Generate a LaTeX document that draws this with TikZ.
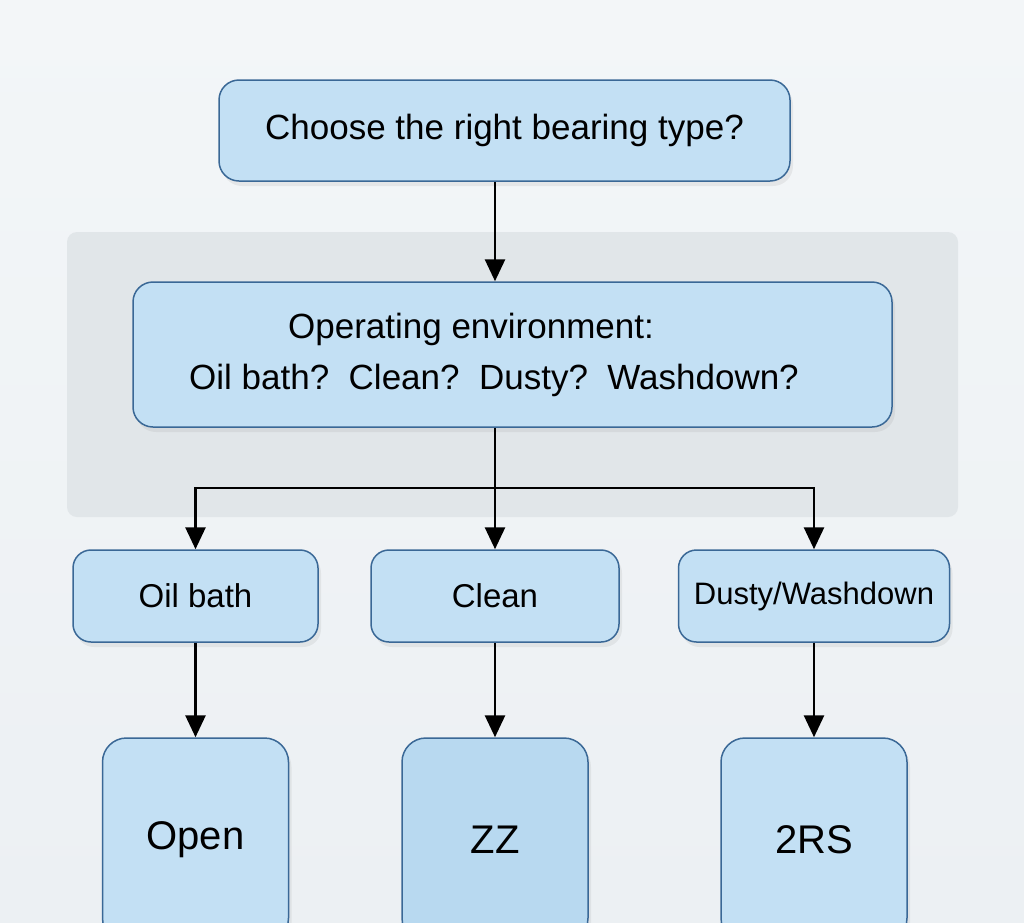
\documentclass[tikz,border=0pt]{standalone}
\usepackage{fontspec}
\setmainfont{Liberation Sans}
\usetikzlibrary{arrows.meta, positioning, shadows, backgrounds}
\definecolor{pagetop}{RGB}{243,246,248}
\definecolor{pagebottom}{RGB}{236,240,243}
\definecolor{panelgray}{RGB}{225,230,233}
\definecolor{boxblue}{RGB}{195,224,244}
\definecolor{boxbluedark}{RGB}{184,217,240}
\definecolor{edgeblue}{RGB}{58,104,150}

\begin{document}
\begin{tikzpicture}[
  x=1pt, y=-1pt,
  question/.style={rectangle, draw=edgeblue, fill=boxblue, line width=1.5pt, rounded corners=20pt, align=center, inner sep=0pt,
    drop shadow={opacity=0.12, shadow xshift=3pt, shadow yshift=-5pt}},
  choice/.style={question, rounded corners=18pt, minimum height=92pt, font=\fontsize{33}{40}\selectfont},
  result/.style={question, rounded corners=24pt, minimum width=186pt, minimum height=204pt, font=\fontsize{40}{48}\selectfont},
  arrow/.style={-{Triangle[width=20pt, length=22pt]}, line width=2.8pt, black}
]
  \useasboundingbox (0,0) rectangle (1024,922);
  \clip (0,0) rectangle (1024,922);

  \node[question, minimum width=571pt, minimum height=101pt, font=\fontsize{35}{42}\selectfont] (goal) at (504.5,130.5) {Choose the right bearing type?};
  \node[question, minimum width=759pt, minimum height=145pt, font=\fontsize{35}{51}\selectfont] (env) at (512.5,354.5)
    {Operating environment:\hspace*{83pt}\\Oil bath?~~Clean?~~Dusty?~~Washdown?\hspace*{37pt}};

  \node[choice, minimum width=245pt] (oil) at (195.5,596) {Oil bath};
  \node[choice, minimum width=248pt] (clean) at (495,596) {Clean};
  \node[choice, minimum width=271pt, font=\fontsize{31}{38}\selectfont] (dusty) at (814,596) {Dusty/Washdown};

  \node[result] (open) at (195.5,840) {Open};
  \node[result, fill=boxbluedark] (zz) at (495,840) {ZZ};
  \node[result] (twors) at (814,840) {2RS};

  \coordinate (split) at (495,488);

  \draw[arrow] (goal.south -| split) -- (env.north -| split);
  \draw[line width=2.8pt] (env.south -| split) -- (split);
  \draw[arrow] (split) -- (clean);
  \draw[arrow] (split) -| (oil);
  \draw[arrow] (split) -| (dusty);

  \draw[arrow] (oil) -- (open);
  \draw[arrow] (clean) -- (zz);
  \draw[arrow] (dusty) -- (twors);

  \begin{scope}[on background layer]
    \shade[top color=pagetop, bottom color=pagebottom] (0,0) rectangle (1024,922);
    \fill[panelgray, rounded corners=10pt] (67,232) rectangle (958,517);
  \end{scope}
\end{tikzpicture}
\end{document}
